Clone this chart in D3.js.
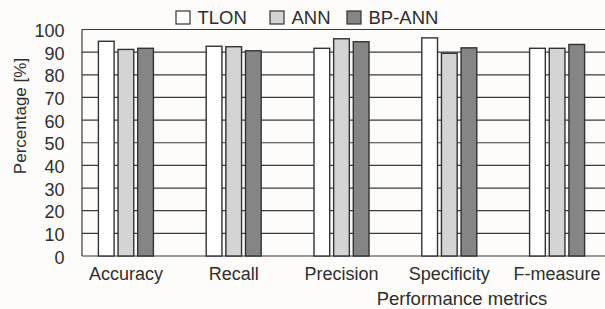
<!DOCTYPE html>
<html lang="en">
<head>
<meta charset="UTF-8">
<title>Performance metrics</title>
<script src="https://d3js.org/d3.v7.min.js"></script>
<style>
  body, html { margin: 0; padding: 0; background: #fdfcfa; overflow: hidden; }
  svg { display: block; font-family: "Liberation Sans", Arial, sans-serif; }
  .grid line { stroke: #3a3a3a; stroke-width: 1.2; }
  .bar { stroke: #333; stroke-width: 1.4; }
  text { fill: #2e2e2e; }
</style>
</head>
<body>
<svg width="605" height="309"></svg>
<script>
  const categories = ["Accuracy", "Recall", "Precision", "Specificity", "F-measure"];
  const seriesNames = ["TLON", "ANN", "BP-ANN"];
  const tlon  = [94.8, 92.6, 91.7, 96.3, 91.7];
  const ann   = [91.2, 92.4, 95.9, 89.5, 91.7];
  const bpAnn = [91.7, 90.6, 94.6, 91.9, 93.4];
  const yTicks = [0, 10, 20, 30, 40, 50, 60, 70, 80, 90, 100];
  const colors = ["#ffffff", "#d4d4d4", "#858585"];

  const svg = d3.select("svg");
  const axisLeft = 82, axisRight = 605;
  const y0 = 256, y1 = 29.5;

  const y = d3.scaleLinear().domain([0, 100]).range([y0, y1]);
  const x = d3.scaleBand().domain(categories).range([72, 611]).paddingInner(0).paddingOuter(0);
  const xs = d3.scaleBand().domain(seriesNames).range([-27.5, 27.5]).paddingInner(0.2);

  // gridlines
  svg.append("g").attr("class", "grid")
    .selectAll("line").data(yTicks).enter().append("line")
    .attr("x1", axisLeft).attr("x2", axisRight)
    .attr("y1", d => y(d)).attr("y2", d => y(d));

  svg.append("line")
    .attr("x1", axisLeft).attr("x2", axisLeft)
    .attr("y1", y(0)).attr("y2", y(100))
    .attr("stroke", "#3a3a3a").attr("stroke-width", 1.2);

  // bars
  const rows = categories.map((c, i) => ({ cat: c, vals: [tlon[i], ann[i], bpAnn[i]] }));
  const groups = svg.selectAll(".grp").data(rows).enter().append("g")
    .attr("transform", d => `translate(${x(d.cat) + x.bandwidth() / 2},0)`);
  groups.selectAll("rect").data(d => d.vals.map((v, k) => ({ v, k })))
    .enter().append("rect")
    .attr("class", "bar")
    .attr("x", d => xs(seriesNames[d.k]))
    .attr("width", xs.bandwidth())
    .attr("y", d => y(d.v))
    .attr("height", d => y(0) - y(d.v))
    .attr("fill", d => colors[d.k]);

  // y tick labels
  svg.selectAll(".ytick").data(yTicks).enter().append("text")
    .attr("x", 64.5).attr("y", d => y(d) + 7.5)
    .attr("text-anchor", "end").attr("font-size", 18)
    .text(d => d);

  // x category labels
  svg.selectAll(".xlab").data(categories).enter().append("text")
    .attr("x", d => x(d) + x.bandwidth() / 2).attr("y", 279.5)
    .attr("text-anchor", "middle").attr("font-size", 18)
    .text(d => d);

  svg.append("text")
    .attr("x", 462).attr("y", 305)
    .attr("text-anchor", "middle").attr("font-size", 18.5)
    .text("Performance metrics");

  svg.append("text")
    .attr("transform", "translate(25.5,116) rotate(-90)")
    .attr("text-anchor", "middle").attr("font-size", 17)
    .text("Percentage [%]");

  // legend
  const legendX = [176, 270, 347];
  const legend = svg.selectAll(".leg").data(seriesNames).enter().append("g")
    .attr("transform", (d, i) => `translate(${legendX[i]},11)`);
  legend.append("rect")
    .attr("width", 14).attr("height", 13)
    .attr("fill", (d, i) => colors[i])
    .attr("stroke", "#333").attr("stroke-width", 1.2);
  legend.append("text")
    .attr("x", 21.5).attr("y", 12.5)
    .attr("font-size", 18.5)
    .text(d => d);
</script>
</body>
</html>
